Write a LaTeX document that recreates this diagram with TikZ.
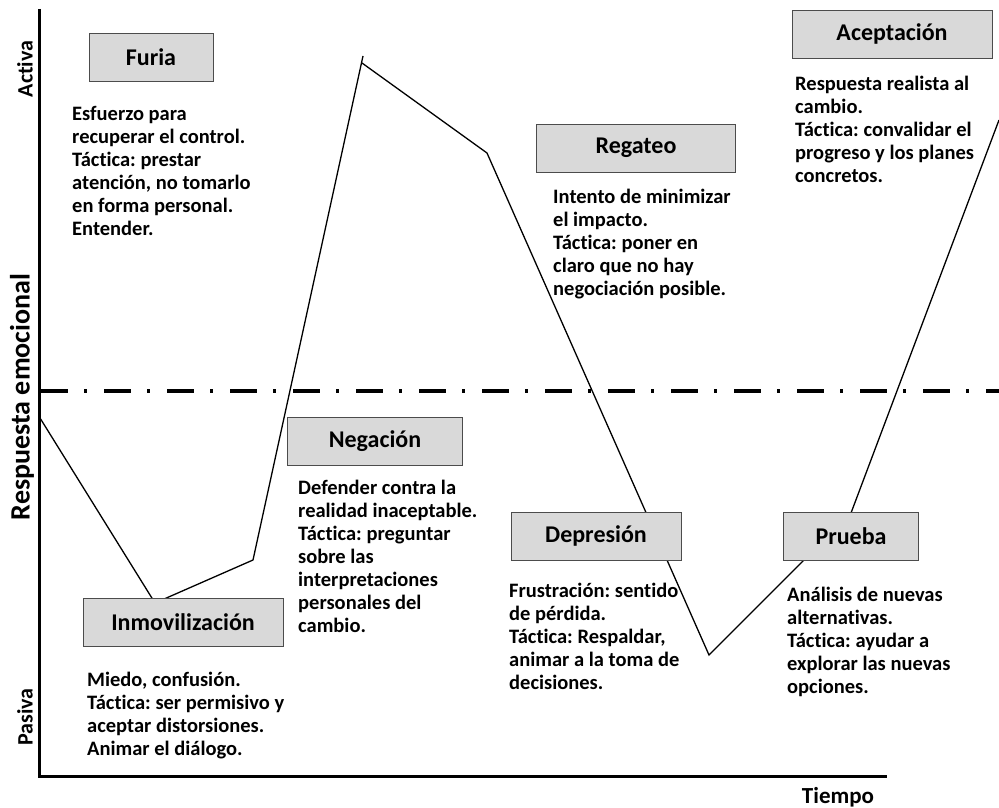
\documentclass[tikz,border=0pt]{standalone}
\usepackage{fontspec}
\setmainfont{Carlito}[Ligatures=NoCommon]
\usepackage{tikz}
\frenchspacing

\tikzset{
  etapa/.style={draw=black!70, fill=black!15, line width=0.9pt, inner sep=0pt,
    minimum height=48pt, font=\fontsize{24}{28}\selectfont\bfseries},
  desc/.style={anchor=north west, inner sep=0pt, align=left,
    font=\fontsize{20.5}{23}\selectfont\bfseries},
  eje/.style={line width=3pt},
  rotulo/.style={rotate=90, font=\fontsize{22}{26}\selectfont\bfseries}
}

\begin{document}
\begin{tikzpicture}[x=1pt, y=-1pt]
\useasboundingbox (0,0) rectangle (999,808);

% Drawing axes
\draw[eje] (39,9) -- (39,776) -- (887,776);
\node[rotulo] (activa) at (25,69) {Activa};
\node[rotulo] (pasiva) at (25,717) {Pasiva};
\node[rotulo, font=\fontsize{28}{32}\selectfont\bfseries] (resp) at (22,397) {Respuesta emocional};
\node[font=\fontsize{23}{26}\selectfont\bfseries] (tiempo) at (838,797) {Tiempo};

% Drawing reference line
\draw[line width=3.5pt, dash pattern=on 27pt off 16pt on 3pt off 17pt] (41,391) -- (999,391);

% Drawing emotional curve
\coordinate (p0) at (40,418);
\coordinate (p1) at (155,603);
\coordinate (p2) at (253,560);
\coordinate (p3) at (363,56);
\coordinate (p4) at (362,63);
\coordinate (p5) at (487,153);
\coordinate (p6) at (709,655);
\coordinate (p7) at (851,513);
\coordinate (p8) at (999,120);
\draw[line width=1.3pt, line join=miter] (p0) -- (p1) -- (p2) -- (p3);
\draw[line width=1.3pt, line join=miter] (p4) -- (p5) -- (p6) -- (p7) -- (p8);

% Drawing stages
\node[etapa, minimum width=124pt] (furia) at (151,57) {Furia};
\node[etapa, minimum width=200pt] (inmov) at (183,622) {Inmovilización};
\node[etapa, minimum width=175pt] (negacion) at (375,441) {Negación};
\node[etapa, minimum width=199pt] (regateo) at (636,148) {Regateo};
\node[etapa, minimum width=170pt] (depresion) at (596,536) {Depresión};
\node[etapa, minimum width=135pt] (prueba) at (851,536) {Prueba};
\node[etapa, minimum width=200pt] (aceptacion) at (892,34) {Aceptación};

% Drawing descriptions
\node[desc] (tfuria) at (72,104) {\strut Esfuerzo para\\recuperar el control.\\Táctica: prestar\\atención, no tomarlo\\en forma personal.\\Entender.};
\node[desc] (tinmov) at (87,670) {\strut Miedo, confusión.\\Táctica: ser permisivo y\\aceptar distorsiones.\\Animar el diálogo.};
\node[desc] (tnegacion) at (298,478) {\strut Defender contra la\\realidad inaceptable.\\Táctica: preguntar\\sobre las\\interpretaciones\\personales del\\cambio.};
\node[desc] (tregateo) at (553,187) {\strut Intento de minimizar\\el impacto.\\Táctica: poner en\\claro que no hay\\negociación posible.};
\node[desc] (tdepresion) at (509,581) {\strut Frustración: sentido\\de pérdida.\\Táctica: Respaldar,\\animar a la toma de\\decisiones.};
\node[desc] (tprueba) at (787,585) {\strut Análisis de nuevas\\alternativas.\\Táctica: ayudar a\\explorar las nuevas\\opciones.};
\node[desc] (taceptacion) at (795,74) {\strut Respuesta realista al\\cambio.\\Táctica: convalidar el\\progreso y los planes\\concretos.};
\end{tikzpicture}
\end{document}
